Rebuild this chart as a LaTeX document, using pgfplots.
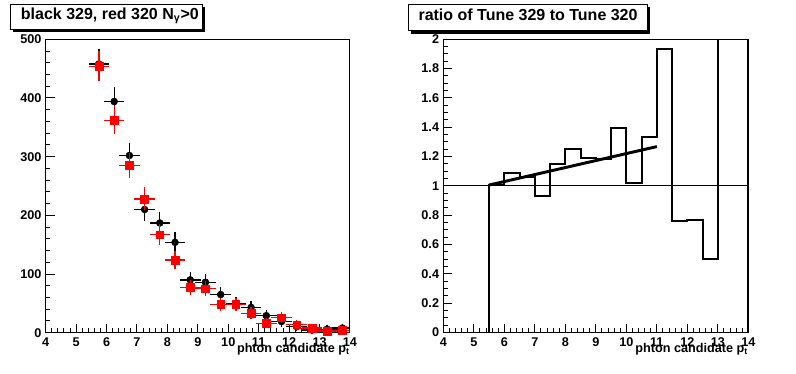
\documentclass[border=0pt]{standalone}
\usepackage{fontspec}
\setmainfont{Liberation Sans}
\usepackage{pgfplots}
\pgfplotsset{compat=1.18}
\usepackage{pgfplotstable}

\pgfplotstableread{
x ex y ey
5.75 0.25 458 21.4
6.25 0.25 394 19.8
6.75 0.25 302 17.4
7.25 0.25 210 14.5
7.75 0.25 187 13.7
8.25 0.25 154 12.4
8.75 0.25 90 9.5
9.25 0.25 86 9.3
9.75 0.25 65 8.1
10.25 0.25 49 7.0
10.75 0.25 43 6.6
11.25 0.25 29 5.4
11.75 0.25 19 4.4
12.25 0.25 10.5 3.2
12.75 0.25 4.5 2.1
13.25 0.25 6 2.4
13.75 0.25 8 2.8
}\blackdata

\pgfplotstableread{
x ex y ey
5.75 0.25 454 21.3
6.25 0.25 362 19.0
6.75 0.25 285 16.9
7.25 0.25 228 15.1
7.75 0.25 167 12.9
8.25 0.25 124 11.1
8.75 0.25 77 8.8
9.25 0.25 75 8.7
9.75 0.25 48 6.9
10.25 0.25 48 6.9
10.75 0.25 33 5.7
11.25 0.25 16 4.0
11.75 0.25 25.5 5.0
12.25 0.25 13.5 3.7
12.75 0.25 8 2.8
13.25 0.25 3 1.7
13.75 0.25 4 2.0
}\reddata

\pgfplotsset{
  rootstyle/.style={
    scale only axis,
    anchor=south west,
    xmin=4, xmax=14,
    xtick={4,5,6,7,8,9,10,11,12,13,14},
    minor x tick num=4,
    tick align=inside,
    xtick pos=left, ytick pos=left,
    major tick length=6.75pt,
    minor tick length=3.4pt,
    every tick/.style={black, line width=0.75pt},
    axis line style={line width=0.75pt},
    tick label style={font=\fontsize{9.5}{10}\selectfont\bfseries},
    xticklabel style={inner sep=0pt, yshift=-3.6pt},
    yticklabel style={inner sep=0pt, xshift=-3pt},
    /pgf/number format/assume math mode=true,
    clip mode=individual,
  }
}

\begin{document}
\begin{tikzpicture}
\useasboundingbox (0,0) rectangle (597pt,-280.5pt);

% left title box
\fill[black] (9.375pt,-5.25pt) rectangle (153.375pt,-24.375pt);
\filldraw[fill=white, draw=black, line width=0.75pt] (7.5pt,-3.375pt) rectangle (151.5pt,-22.5pt);
\node[anchor=base west, inner sep=0pt, font=\fontsize{12}{14}\selectfont\bfseries] at (15.5pt,-14.6pt) {black 329, red 320 N\textsubscript{γ}>0};

% right title box
\fill[black] (308.2pt,-5.2pt) rectangle (487.25pt,-25.25pt);
\filldraw[fill=white, draw=black, line width=0.75pt] (306.2pt,-3.2pt) rectangle (485.25pt,-23.25pt);
\node[anchor=base west, inner sep=0pt, font=\fontsize{12}{14}\selectfont\bfseries] at (313.7pt,-15.4pt) {ratio of Tune 329 to Tune 320};

\begin{axis}[rootstyle,
  at={(34.28pt,-249.53pt)},
  width=228.2pt, height=220.05pt,
  ymin=0, ymax=500,
  ytick={0,100,200,300,400,500},
  minor y tick num=4,
]
\addplot[only marks, mark=*, mark size=2.6pt, black,
  error bars/.cd, x dir=both, x explicit, y dir=both, y explicit,
  error bar style={line width=1pt, black},
  error mark options={line width=1pt, mark size=2pt, black}]
  table[x=x, y=y, x error=ex, y error=ey] {\blackdata};
\addplot[only marks, mark=square*, mark size=2.9pt, red,
  error bars/.cd, x dir=both, x explicit, y dir=both, y explicit,
  error bar style={line width=1pt, red},
  error mark options={line width=1pt, mark size=2pt, red}]
  table[x=x, y=y, x error=ex, y error=ey] {\reddata};
\node[anchor=base east, inner sep=0pt, font=\fontsize{9.5}{10}\selectfont\bfseries, yshift=-15.2pt] at (rel axis cs:1,0) {phton candidate p\textsubscript{t}};
\end{axis}

\begin{axis}[rootstyle,
  at={(332.48pt,-249.38pt)},
  width=228.75pt, height=220.1pt,
  ymin=0, ymax=2,
  ytick={0,0.2,0.4,0.6,0.8,1,1.2,1.4,1.6,1.8,2},
  minor y tick num=3,
  yticklabel style={/pgf/number format/fixed, /pgf/number format/precision=1},
]
\addplot[black, line width=0.75pt] coordinates {(4,1) (14,1)};
\addplot[const plot, black, line width=1.5pt] coordinates {
(4,0) (4.5,0) (5,0) (5.5,1.007) (6,1.09) (6.5,1.063) (7,0.927) (7.5,1.145)
(8,1.25) (8.5,1.19) (9,1.18) (9.5,1.397) (10,1.02) (10.5,1.33) (11,1.93)
(11.5,0.757) (12,0.77) (12.5,0.503) (13,2) (13.5,2) (14,2) (14,0)};
\addplot[black, line width=2.2pt] coordinates {(5.5,1.005) (11,1.267)};
\node[anchor=base east, inner sep=0pt, font=\fontsize{9.5}{10}\selectfont\bfseries, yshift=-15.2pt] at (rel axis cs:1,0) {phton candidate p\textsubscript{t}};
\end{axis}
\end{tikzpicture}
\end{document}
